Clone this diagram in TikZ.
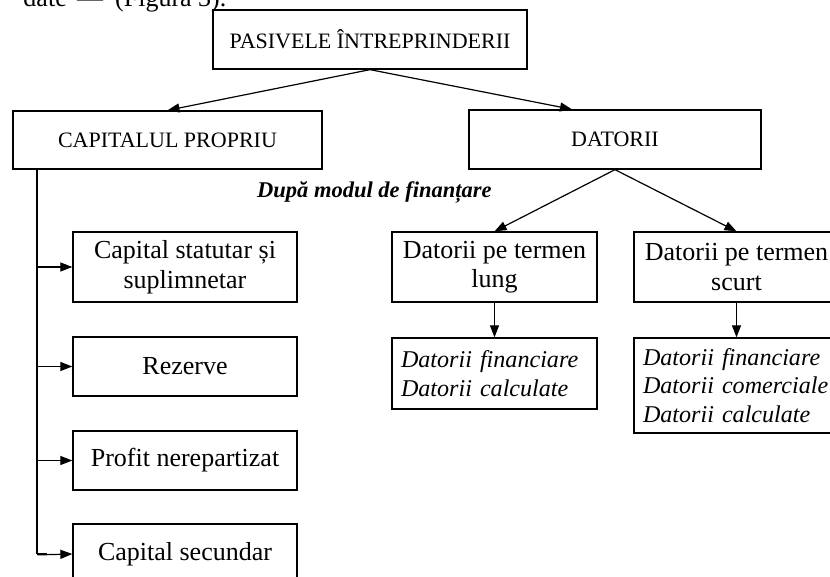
\documentclass[tikz,border=0pt]{standalone}
\usepackage{fontspec}
\setmainfont{Liberation Serif}
\usetikzlibrary{arrows.meta,calc}
\newcommand\fcaps{\fontsize{22}{26}\selectfont}
\newcommand\flab{\fontsize{26}{29.5}\selectfont}
\newcommand\fital{\fontsize{24.1}{28.5}\selectfont\itshape}
\begin{document}
\begin{tikzpicture}[x=1pt,y=-1pt,
  box/.style 2 args={draw, line width=1.3pt, rectangle, inner sep=0pt,
    minimum width=#1, minimum height=#2, align=center},
  listbox/.style 2 args={draw, line width=1.3pt, rectangle, inner xsep=9pt, inner ysep=0pt,
    text width=#1-18pt, minimum height=#2, align=left, font=\fital},
  link/.style={line width=1.2pt, -{Triangle[length=12pt,width=9pt]}},
  trunkline/.style={line width=1.8pt}
]
\useasboundingbox (0,0) rectangle (830,577);
\clip (0,0) rectangle (830,577);

% running text above the chart
\node[anchor=base east, inner sep=0pt, font=\flab] (txtA) at (67,7) {date};
\node[anchor=base west, inner sep=0pt, font=\flab] (txtB) at (77,7) {—};
\node[anchor=base west, inner sep=0pt, font=\flab] (txtC) at (115,7) {(Figura 3).};

% top level
\node[box={314pt}{59pt}, font=\fcaps] (root) at (370,39.5) {PASIVELE ÎNTREPRINDERII};
\node[box={309pt}{58pt}, font=\fcaps] (cap) at (167.5,140) {CAPITALUL PROPRIU};
\node[box={292pt}{59pt}, font=\fcaps] (dat) at (615,139.5) {DATORII};

% equity components
\node[box={224pt}{70pt}, font=\flab] (stat) at (185,267) {Capital statutar și\\suplimnetar};
\node[box={224pt}{59pt}, font=\flab] (rez) at (185,366.5) {Rezerve};
\node[box={224pt}{59pt}, font=\flab] (prof) at (185,460.5) {Profit nerepartizat};
\node[box={224pt}{60pt}, font=\flab] (sec) at (185,554) {Capital secundar};

% debts by maturity
\node[box={205pt}{70pt}, font=\flab] (lung) at (494.5,267) {Datorii pe termen\\lung};
\node[box={205pt}{70pt}, font=\flab] (scurt) at (736.5,267) {Datorii pe termen\\scurt};
\node[listbox={205pt}{71pt}] (lungL) at (494.5,373.5)
  {\mbox{Datorii financiare}\\\mbox{Datorii calculate}};
\node[listbox={205pt}{95pt}] (scurtL) at (736.5,385.5)
  {\mbox{Datorii financiare}\\\mbox{Datorii comerciale}\\\mbox{Datorii calculate}};

\node[anchor=base west, inner sep=0pt, font=\fontsize{22.5}{26}\selectfont\bfseries\itshape] (crit) at (257,198) {După modul de finanțare};

% connectors
\draw[link] (root.south) -- (cap.north);
\draw[link] (root.south) -- ([xshift=-43pt]dat.north);
\draw[link] (dat.south) -- (lung.north);
\draw[link] (dat.south) -- (scurt.north);
\draw[link] (lung.south) -- (lungL.north);
\draw[link] (scurt.south) -- (scurtL.north);

\coordinate (trunk) at ($(cap.south west)+(25,0)$);
\draw[trunkline] (trunk) -- (trunk |- sec.west);
\draw[link] (trunk |- stat.west) -- (stat.west);
\draw[link] (trunk |- rez.west) -- (rez.west);
\draw[link] (trunk |- prof.west) -- (prof.west);
\draw[link] ([yshift=-0.9pt]trunk |- sec.west) -- (sec.west);
\draw[trunkline] (trunk |- sec.west) -- ++(10,0);
\end{tikzpicture}
\end{document}
